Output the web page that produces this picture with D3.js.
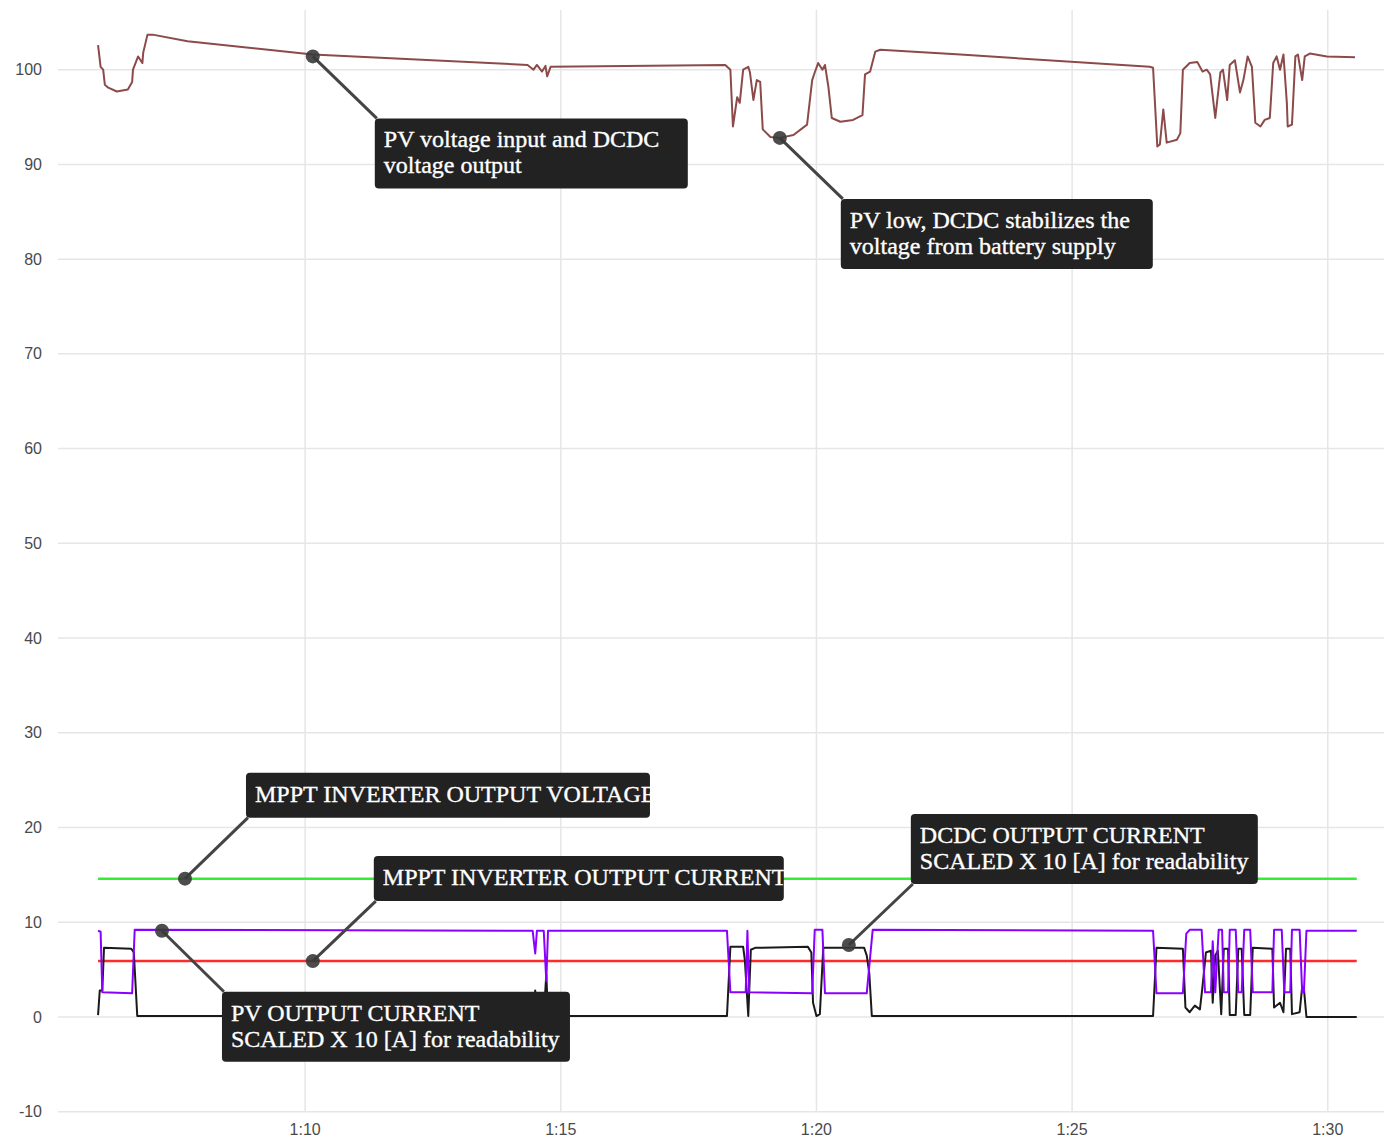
<!DOCTYPE html>
<html><head><meta charset="utf-8">
<script src="https://cdn.jsdelivr.net/npm/d3@7/dist/d3.min.js"></script>
<style>
body{margin:0;background:#fff}
.tick-label{font-family:"Liberation Sans",Arial,sans-serif;font-size:16px;fill:#4a4a4a}
.ann-text{font-family:"Liberation Serif","Times New Roman",serif;font-size:24px;fill:#fff;stroke:#fff;stroke-width:0.35px}
</style>
</head><body>
<svg id="c" width="1384" height="1139"></svg>
<script>
// time = seconds after 1:00:00
const pvVoltage = [[357,102.6],[360,100.3],[363,100.0],[365,98.4],[369,98.1],[379,97.7],[392,97.9],[397,98.7],[398,100.0],[404,101.4],[409,100.7],[410,101.8],[415,103.7],[421,103.7],[462,103.0],[609,101.6],[861,100.5],[868,100.0],[872,100.5],[878,99.8],[882,100.4],[884,99.3],[888,100.3],[1093,100.5],[1099,100.0],[1102,94.0],[1107,97.1],[1110,96.5],[1114,100.0],[1120,100.3],[1122,99.7],[1126,96.8],[1130,98.9],[1134,98.7],[1137,93.7],[1146,92.9],[1157,92.8],[1173,93.1],[1189,94.2],[1195,98.9],[1198,99.7],[1202,100.7],[1207,100.0],[1210,100.5],[1214,98.2],[1218,94.9],[1228,94.5],[1243,94.7],[1254,95.2],[1257,99.5],[1263,99.8],[1269,101.9],[1275,102.1],[1369,101.6],[1591,100.3],[1595,100.2],[1600,91.9],[1603,92.1],[1607,95.8],[1611,92.3],[1623,92.6],[1627,93.3],[1630,100.0],[1638,100.7],[1647,100.8],[1653,99.8],[1658,100.0],[1662,99.5],[1668,94.9],[1674,99.7],[1677,100.0],[1682,96.8],[1685,100.5],[1691,101.0],[1697,97.6],[1701,98.9],[1706,101.4],[1711,100.3],[1715,94.4],[1721,94.0],[1726,94.7],[1732,94.9],[1736,100.7],[1740,101.4],[1744,100.0],[1748,101.6],[1752,96.5],[1753,94.0],[1758,94.2],[1762,101.4],[1765,101.6],[1770,98.9],[1773,101.4],[1779,101.7],[1799,101.4],[1832,101.3]];

const mpptVoltage = [[357,14.6],[1834,14.6]];
const mpptCurrent = [[357,5.9],[1834,5.9]];

const pvCurrentX10 = [[357,9.1],[360,9.0],[362,2.6],[397,2.5],[400,9.2],[867,9.1],[870,6.7],[872,9.1],[880,9.1],[883,3.8],[885,9.1],[1095,9.1],[1099,2.6],[1117,2.6],[1119,9.1],[1121,2.6],[1195,2.5],[1198,9.2],[1207,9.2],[1210,2.5],[1259,2.5],[1266,9.2],[1595,9.1],[1599,2.5],[1630,2.5],[1634,8.8],[1638,9.2],[1652,9.2],[1656,2.6],[1663,2.6],[1665,8.0],[1668,2.6],[1672,9.2],[1676,9.2],[1678,2.6],[1683,2.6],[1685,9.2],[1692,9.2],[1695,2.6],[1699,2.6],[1702,9.2],[1709,9.2],[1712,2.6],[1735,2.6],[1737,9.2],[1746,9.2],[1749,2.6],[1756,2.6],[1758,9.2],[1767,9.2],[1770,2.6],[1772,2.6],[1775,9.1],[1834,9.1]];

const dcdcCurrentX10 = [[357,0.2],[359,2.8],[362,2.8],[364,7.3],[396,7.2],[399,6.8],[403,0.1],[867,0.1],[870,2.8],[872,0.1],[880,0.1],[883,4.5],[885,0.1],[1095,0.1],[1099,7.4],[1114,7.4],[1116,6.0],[1120,0.1],[1123,7.1],[1128,7.3],[1190,7.4],[1194,6.8],[1196,1.5],[1200,0.1],[1204,0.3],[1208,7.3],[1256,7.3],[1259,6.5],[1262,4.6],[1265,0.1],[1595,0.1],[1599,7.3],[1630,7.2],[1633,1.0],[1638,0.5],[1644,1.2],[1650,0.8],[1653,3.2],[1657,6.8],[1663,7.0],[1665,1.5],[1668,6.5],[1671,7.0],[1675,0.3],[1678,7.2],[1683,7.2],[1685,0.2],[1692,0.2],[1695,7.2],[1699,7.2],[1702,0.2],[1709,0.2],[1712,7.3],[1735,7.2],[1737,1.0],[1744,1.5],[1748,0.5],[1751,7.2],[1756,7.2],[1758,0.3],[1767,0.5],[1770,3.2],[1772,3.0],[1775,0.0],[1834,0.0]];

const yTicks = [-10,0,10,20,30,40,50,60,70,80,90,100];
const xTicks = [600,900,1200,1500,1800];
const xTickLabels = ["1:10","1:15","1:20","1:25","1:30"];

const annotationTexts = [
  ["PV voltage input and DCDC","voltage output"],
  ["PV low, DCDC stabilizes the","voltage from battery supply"],
  ["MPPT INVERTER OUTPUT VOLTAGE"],
  ["MPPT INVERTER OUTPUT CURRENT"],
  ["PV OUTPUT CURRENT","SCALED X 10 [A] for readability"],
  ["DCDC OUTPUT CURRENT","SCALED X 10 [A] for readability"]
];
const annotationPoints = [[609,101.4],[1157,92.8],[459,14.6],[609,5.9],[432,9.1],[1238,7.6]];

// layout (pixels)
const annLayout = [
  {dx:62,dy:62,w:313,h:70,below:true},
  {dx:61,dy:61,w:312,h:70,below:true},
  {dx:61,dy:-61,w:404,h:45,below:false},
  {dx:61,dy:-60,w:410,h:45,below:false},
  {dx:60,dy:61,w:348,h:70,below:true},
  {dx:62,dy:-61,w:347,h:70,below:false}
];

const svg = d3.select("#c");
const x = d3.scaleLinear().domain([310,1866]).range([58,1384]);
const y = d3.scaleLinear().domain([-10,106.3]).range([1111.7,10]);

// grid
svg.append("g").selectAll("line").data(yTicks).join("line")
  .attr("x1",58).attr("x2",1384).attr("y1",d=>y(d)).attr("y2",d=>y(d))
  .attr("stroke","#e6e6e6").attr("stroke-width",1.5);
svg.append("g").selectAll("line").data(xTicks).join("line")
  .attr("x1",d=>x(d)).attr("x2",d=>x(d)).attr("y1",10).attr("y2",y(-10))
  .attr("stroke","#e6e6e6").attr("stroke-width",1.5);

// axis labels
svg.append("g").selectAll("text").data(yTicks).join("text")
  .attr("class","tick-label").attr("x",42).attr("y",d=>y(d)).attr("dy","0.35em")
  .attr("text-anchor","end").text(d=>d);
svg.append("g").selectAll("text").data(xTicks).join("text")
  .attr("class","tick-label").attr("x",d=>x(d)).attr("y",1135)
  .attr("text-anchor","middle").text((d,i)=>xTickLabels[i]);

const line = d3.line().x(d=>x(d[0])).y(d=>y(d[1]));
const series = [
  {data:mpptVoltage,color:"#33ee33",w:2.5},
  {data:mpptCurrent,color:"#ff2a2a",w:2.5},
  {data:dcdcCurrentX10,color:"#1a1a1a",w:2},
  {data:pvCurrentX10,color:"#8a00ff",w:2},
  {data:pvVoltage,color:"#8c4a4a",w:2}
];
svg.append("g").selectAll("path").data(series).join("path")
  .attr("d",d=>line(d.data)).attr("fill","none")
  .attr("stroke",d=>d.color).attr("stroke-width",d=>d.w).attr("stroke-linejoin","round");

// annotations
const defs = svg.append("defs");
const ag = svg.append("g");
annotationTexts.forEach((lines,i)=>{
  const p = annotationPoints[i], L = annLayout[i];
  const px = x(p[0]), py = y(p[1]);
  const bx = px + L.dx;
  const cornerY = py + L.dy;
  const by = L.below ? cornerY : cornerY - L.h;
  ag.append("line").attr("x1",px).attr("y1",py).attr("x2",bx+2).attr("y2",cornerY)
    .attr("stroke","#444").attr("stroke-width",3);
  ag.append("circle").attr("cx",px).attr("cy",py).attr("r",7).attr("fill","#3a3a3a").attr("opacity",0.9);
  ag.append("rect").attr("x",bx).attr("y",by).attr("width",L.w).attr("height",L.h)
    .attr("rx",4).attr("fill","#222");
  defs.append("clipPath").attr("id","clip"+i).append("rect")
    .attr("x",bx).attr("y",by).attr("width",L.w).attr("height",L.h);
  const t = ag.append("text").attr("class","ann-text").attr("clip-path",`url(#clip${i})`);
  lines.forEach((s,j)=>{
    t.append("tspan").attr("x",bx+9).attr("y",by+29+j*26).text(s);
  });
});
</script>
</body></html>
